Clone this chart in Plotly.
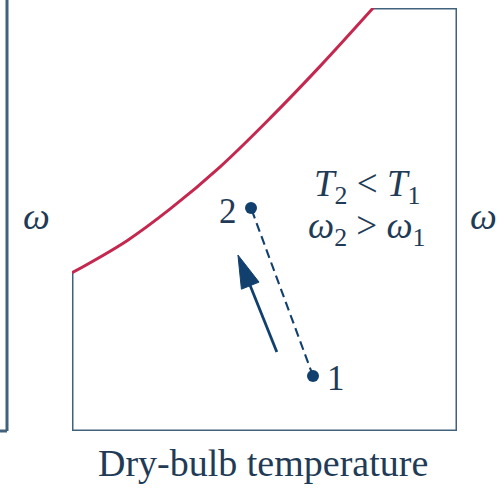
import math
import plotly.graph_objects as go

# ---- data (schematic psychrometric chart, arbitrary units 0..100) ----
sat_T = [0, 14.3, 25.5, 38.4, 51.4, 64.4, 78.2]      # dry-bulb temperature
sat_w = [37.4, 45.0, 52.5, 62.4, 73.9, 86.2, 100.0]  # humidity ratio on saturation curve
state_T = [62.6, 46.5]        # states 1, 2
state_w = [13.0, 52.7]
state_labels = ["1", "2"]
arrow_tail = (53.2, 18.7)
arrow_tip = (43.1, 41.6)
x_title = "Dry-bulb temperature"
y_title = "ω"

FRAME = "#42627b"
TEXT = "#1f3b56"
RED = "#c4284f"
NAVY = "#12406e"
FONT = "Liberation Serif, Times New Roman, serif"

W, H = 503, 488
ML, MR, MT, MB = 72, 46, 8, 57
pw, ph = W - ML - MR, H - MT - MB
sx, sy = pw / 100.0, ph / 100.0

fig = go.Figure()

# frame: partial box (top from curve end, left up to curve start)
fig.add_trace(go.Scatter(
    x=[sat_T[-1], 100, 100, 0, 0], y=[100, 100, 0, 0, sat_w[0]],
    mode="lines", line=dict(color=FRAME, width=3), hoverinfo="skip", cliponaxis=False))

# saturation curve
fig.add_trace(go.Scatter(x=sat_T, y=sat_w, mode="lines",
                         line=dict(color=RED, width=3, shape="spline", smoothing=1.0),
                         cliponaxis=False))

# dashed process line
fig.add_trace(go.Scatter(x=state_T, y=state_w, mode="lines",
                         line=dict(color=NAVY, width=2.1, dash="9px,5px")))

# state points
fig.add_trace(go.Scatter(x=state_T, y=state_w, mode="markers",
                         marker=dict(color=NAVY, size=12)))

# arrow: shaft + filled head computed from tail/tip
dxp = (arrow_tip[0] - arrow_tail[0]) * sx
dyp = (arrow_tip[1] - arrow_tail[1]) * sy
L = math.hypot(dxp, dyp)
ux, uy = dxp / L, dyp / L
hl, hw = 33, 9.5
bx, by = -ux * hl, -uy * hl
c1 = (bx - uy * hw, by + ux * hw)
c2 = (bx + uy * hw, by - ux * hw)
base = (arrow_tip[0] + bx / sx + ux * 4 / sx, arrow_tip[1] + by / sy + uy * 4 / sy)
fig.add_trace(go.Scatter(x=[arrow_tail[0], base[0]], y=[arrow_tail[1], base[1]], mode="lines",
                         line=dict(color=NAVY, width=2.8)))
fig.add_trace(go.Scatter(
    x=[arrow_tip[0], arrow_tip[0] + c1[0] / sx, arrow_tip[0] + c2[0] / sx, arrow_tip[0]],
    y=[arrow_tip[1], arrow_tip[1] + c1[1] / sy, arrow_tip[1] + c2[1] / sy, arrow_tip[1]],
    mode="lines", fill="toself", fillcolor=NAVY, line=dict(color=NAVY, width=1)))

ann = []
# state labels
ann.append(dict(x=state_T[0], y=state_w[0], text=state_labels[0], showarrow=False,
                xanchor="left", xshift=12, yshift=-2, font=dict(size=35, color=TEXT, family=FONT)))
ann.append(dict(x=state_T[1], y=state_w[1], text=state_labels[1], showarrow=False,
                xanchor="right", xshift=-12, yshift=-3, font=dict(size=35, color=TEXT, family=FONT)))
# relations
ann.append(dict(x=(367 - ML) / pw, y=(431 - 186) / ph, xref="paper", yref="paper",
                xanchor="center", yanchor="middle",
                text="<i>T</i><sub>2</sub> &lt; <i>T</i><sub>1</sub>", showarrow=False,
                font=dict(size=37, color=TEXT, family=FONT)))
ann.append(dict(x=(367 - ML) / pw, y=(431 - 228) / ph, xref="paper", yref="paper",
                xanchor="center", yanchor="middle",
                text="<i>ω</i><sub>2</sub> &gt; <i>ω</i><sub>1</sub>", showarrow=False,
                font=dict(size=37, color=TEXT, family=FONT)))
# omega labels
for px in (36, 483):
    ann.append(dict(x=(px - ML) / pw, y=(431 - 216) / ph, xref="paper", yref="paper",
                    xanchor="center", yanchor="middle",
                    text="<i>" + y_title + "</i>", showarrow=False,
                    font=dict(size=38, color=TEXT, family=FONT)))
# x title
ann.append(dict(x=(263 - ML) / pw, y=(431 - 463) / ph, xref="paper", yref="paper",
                xanchor="center", yanchor="middle",
                text=x_title, showarrow=False, font=dict(size=38, color=TEXT, family=FONT)))

shapes = [
    dict(type="line", xref="paper", yref="paper", x0=(7 - ML) / pw, x1=(7 - ML) / pw,
         y0=0, y1=(431 + 2) / ph, line=dict(color=FRAME, width=3)),
    dict(type="line", xref="paper", yref="paper", x0=(-2 - ML) / pw, x1=(7 - ML) / pw,
         y0=0, y1=0, line=dict(color=FRAME, width=3)),
]

fig.update_layout(
    width=W, height=H, margin=dict(l=ML, r=MR, t=MT, b=MB, autoexpand=False),
    paper_bgcolor="white", plot_bgcolor="white", showlegend=False,
    xaxis=dict(range=[0, 100], visible=False, fixedrange=True),
    yaxis=dict(range=[0, 100], visible=False, fixedrange=True),
    annotations=ann, shapes=shapes,
)
fig.write_html("out.html", config={"displayModeBar": False},
               post_script="document.body.style.margin='0px';document.body.style.overflow='hidden';")
